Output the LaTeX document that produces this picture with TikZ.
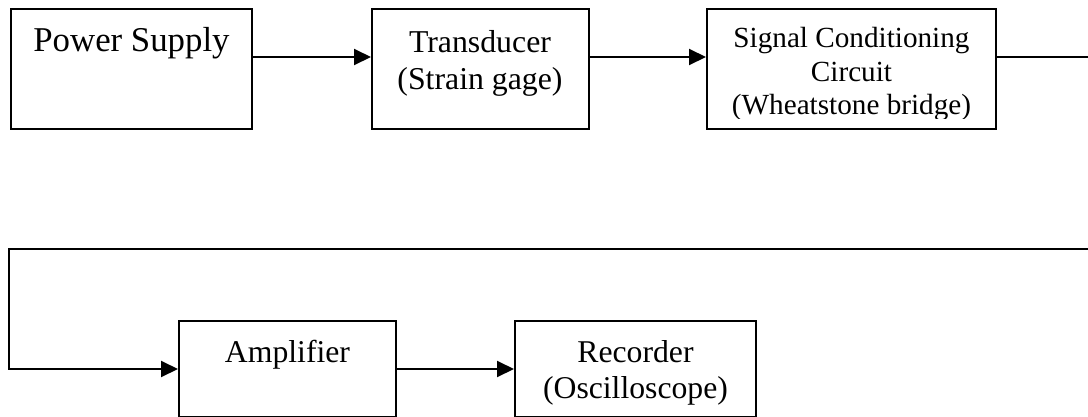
\documentclass[tikz,border=0pt]{standalone}
\usepackage{fontspec}
\setmainfont{Liberation Serif}
\usetikzlibrary{arrows.meta}
\tikzset{
  box/.style={draw=black, line width=2pt, inner sep=0pt, fill=white},
  lbl/.style={anchor=base, inner sep=0pt, text=black},
  conn/.style={line width=2pt, draw=black},
  arr/.style={conn, -{Triangle[length=17pt,width=16pt]}},
}
\begin{document}
\begin{tikzpicture}[x=1pt,y=-1pt]
\useasboundingbox (0,0) rectangle (1088,416);
\clip (0,0) rectangle (1088,416);
% top row boxes
\node[box, minimum width=241pt, minimum height=120pt] (ps) at (131.5,69) {};
\node[box, minimum width=217pt, minimum height=120pt] (tr) at (480.5,69) {};
\node[box, minimum width=289pt, minimum height=120pt] (sig) at (851.5,69) {};
% bottom row boxes
\node[box, minimum width=217pt, minimum height=96pt] (amp) at (287.5,369) {};
\node[box, minimum width=241pt, minimum height=96pt] (rec) at (635.5,369) {};
% texts
\node[lbl, font=\fontsize{34.8}{40}\selectfont] (pst) at (131.5,51) {Power Supply};
\node[lbl, font=\fontsize{31.8}{36}\selectfont] (tr1) at (480,52) {Transducer};
\node[lbl, font=\fontsize{31.8}{36}\selectfont] (tr2) at (480,89) {(Strain gage)};
\begin{scope}
\clip (707,9) rectangle (996,118);
\node[lbl, font=\fontsize{29.2}{34}\selectfont] (sg1) at (851.5,47) {Signal Conditioning};
\node[lbl, font=\fontsize{29.2}{34}\selectfont] (sg2) at (851.5,81) {Circuit};
\node[lbl, font=\fontsize{29.2}{34}\selectfont] (sg3) at (851.5,114) {(Wheatstone bridge)};
\end{scope}
\node[lbl, font=\fontsize{31.7}{36}\selectfont] (ampt) at (287.5,362) {Amplifier};
\node[lbl, font=\fontsize{31.7}{36}\selectfont] (rc1) at (635.5,362) {Recorder};
\node[lbl, font=\fontsize{31.7}{36}\selectfont] (rc2) at (635.5,398) {(Oscilloscope)};
% connectors
\coordinate (rt) at (1100,249);
\coordinate (lt) at (9,249);
\draw[arr] ([yshift=12pt]ps.east) -- ([yshift=12pt]tr.west);
\draw[arr] ([yshift=12pt]tr.east) -- ([yshift=12pt]sig.west);
\draw[arr] ([yshift=12pt]sig.east) -| (rt) -- (lt) |- (amp.west);
\draw[arr] (amp.east) -- (rec.west);
\end{tikzpicture}
\end{document}
